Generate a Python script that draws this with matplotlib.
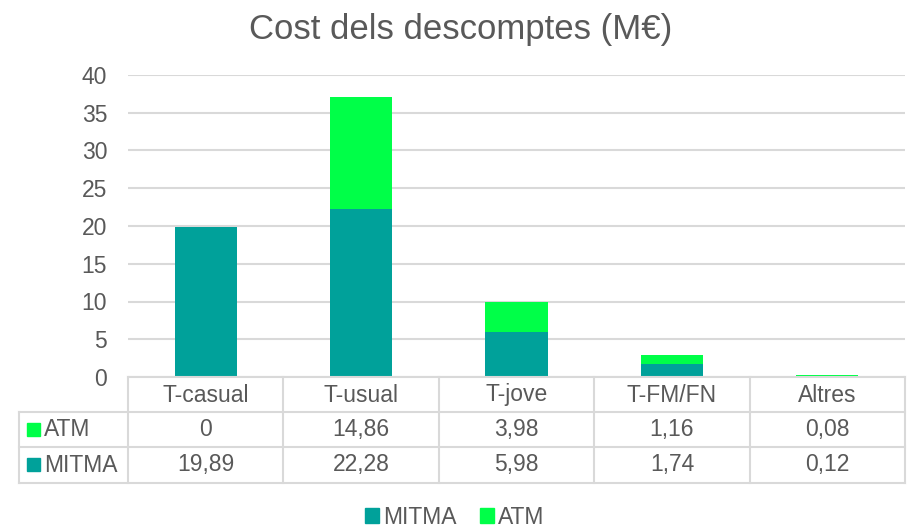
import matplotlib
matplotlib.use("Agg")
from matplotlib import pyplot as plt
from matplotlib.patches import Rectangle
from matplotlib.lines import Line2D

plt.rcParams['font.family'] = ['Liberation Sans', 'DejaVu Sans']

categories = ["T-casual", "T-usual", "T-jove", "T-FM/FN", "Altres"]
mitma = [19.89, 22.28, 5.98, 1.74, 0.12]
atm = [0, 14.86, 3.98, 1.16, 0.08]
yticks = [0, 5, 10, 15, 20, 25, 30, 35, 40]

c_mitma = "#00A19A"
c_atm = "#00FF48"
txt = "#595959"
grid = "#D9D9D9"
fs = 16.5

W, H = 907, 530
fig = plt.figure(figsize=(W / 100, H / 100), dpi=100)
x0, x1, y0, y1 = 128, 905, 377, 75
ax = fig.add_axes([x0 / W, 1 - y0 / H, (x1 - x0) / W, (y0 - y1) / H])

xs = list(range(len(categories)))
ax.bar(xs, mitma, width=0.4, color=c_mitma, zorder=3)
ax.bar(xs, atm, width=0.4, bottom=mitma, color=c_atm, zorder=3)

ax.set_xlim(-0.5, len(categories) - 0.5)
ax.set_ylim(0, 40)
ax.set_yticks(yticks)
ax.set_yticklabels([str(t) for t in yticks])
ax.tick_params(axis='y', length=0, labelsize=fs, colors=txt, pad=15)
ax.set_xticks([])
for s in ax.spines.values():
    s.set_visible(False)
ax.yaxis.grid(True, color=grid, linewidth=1.5, zorder=0)

fig.text(461 / W, 1 - 30 / H, "Cost dels descomptes (M€)", ha='center', va='center',
         fontsize=25, color=txt)

# data table below the axis
def fx(px):
    return px / W

def fy(py):
    return 1 - py / H

rows = [("ATM", c_atm, atm), ("MITMA", c_mitma, mitma)]
row_top = [377, 412, 447, 483]
col_w = (x1 - x0) / len(categories)
lw = 1.5
fig.add_artist(Line2D([fx(x0), fx(x1)], [fy(377)] * 2, color=grid, lw=lw))
for yy in row_top[1:]:
    fig.add_artist(Line2D([fx(19), fx(x1)], [fy(yy)] * 2, color=grid, lw=lw))
for i in range(len(categories) + 1):
    xx = x0 + i * col_w
    fig.add_artist(Line2D([fx(xx)] * 2, [fy(377), fy(483)], color=grid, lw=lw))
fig.add_artist(Line2D([fx(19)] * 2, [fy(412), fy(483)], color=grid, lw=lw))

def fmt(v):
    return ("%g" % v) if v == int(v) else ("%.2f" % v).replace(".", ",")

for i, c in enumerate(categories):
    cx = x0 + (i + 0.5) * col_w
    fig.text(fx(cx), fy(395), c, ha='center', va='center', fontsize=fs, color=txt)
for r, (name, col, vals) in enumerate(rows):
    cy = (row_top[r + 1] + row_top[r + 2]) / 2
    fig.add_artist(Rectangle((fx(27), fy(cy + 6)), 13 / W, 13 / H, color=col,
                             transform=fig.transFigure))
    fig.text(fx(44), fy(cy), name, ha='left', va='center', fontsize=fs, color=txt)
    for i, v in enumerate(vals):
        cx = x0 + (i + 0.5) * col_w
        fig.text(fx(cx), fy(cy), fmt(v), ha='center', va='center', fontsize=fs, color=txt)

handles = [Rectangle((0, 0), 1, 1, color=c_mitma), Rectangle((0, 0), 1, 1, color=c_atm)]
fig.legend(handles, ["MITMA", "ATM"], loc='center', bbox_to_anchor=(fx(455), fy(517)),
           ncol=2, frameon=False, fontsize=fs, handlelength=0.6, handleheight=0.6,
           handletextpad=0.2, columnspacing=1.0, labelcolor=txt)

fig.savefig("out.png", dpi=100)
